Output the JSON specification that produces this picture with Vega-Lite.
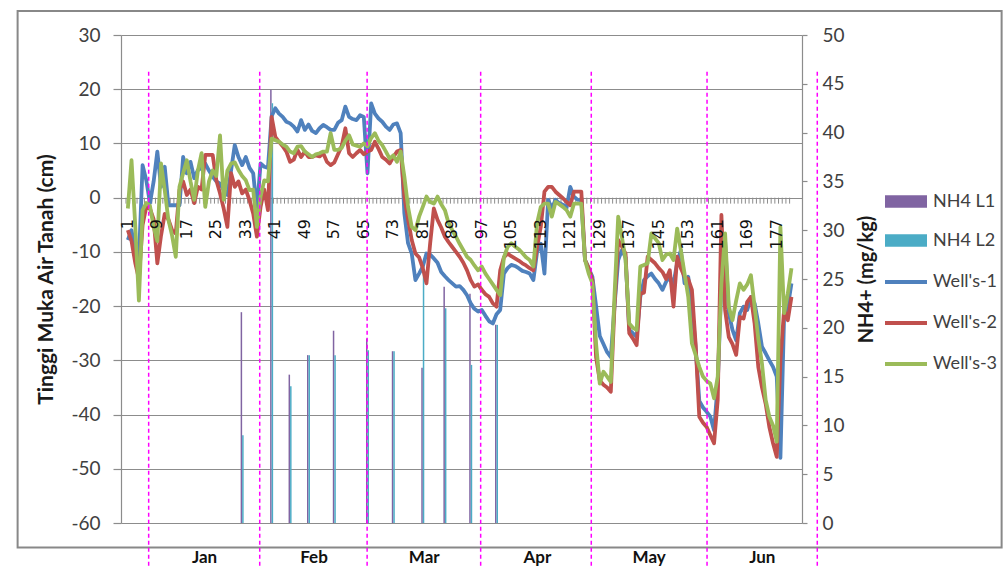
{
  "$schema": "https://vega.github.io/schema/vega-lite/v6.json",
  "width": 681,
  "height": 488,
  "autosize": {"type": "none"},
  "padding": {"left": 121, "top": 35, "right": 201, "bottom": 45},
  "background": "white",
  "config": {"view": {"stroke": null}, "font": "Lato", "text": {"font": "Lato"}},
  "datasets": {
    "w": [
      {"d":1,"b":-7.8,"r":-6,"g":-2},{"d":2,"b":-6,"r":-8,"g":6.9},{"d":3,"b":-10,"r":-12,"g":-5},{"d":4,"b":-11.5,"r":-15,"g":-19},
      {"d":5,"b":6,"r":-5,"g":-2.3},{"d":6,"b":3.2,"r":-1.7,"g":-1},{"d":7,"b":-1,"r":-2,"g":-1.5},{"d":8,"b":3,"r":-4,"g":-5.4},
      {"d":9,"b":8.5,"r":-12.1,"g":-8},{"d":10,"b":2,"r":-7,"g":6.3},{"d":11,"b":5.7,"r":-3,"g":1.4},{"d":12,"b":-1.4,"r":-4,"g":-4.1},
      {"d":13,"b":-1.4,"r":-6,"g":-7},{"d":14,"b":-1.4,"r":-6.6,"g":-10.9},{"d":15,"b":-1.4,"r":1.4,"g":2},{"d":16,"b":7.5,"r":3,"g":4.5},
      {"d":17,"b":4.5,"r":0.5,"g":6.9},{"d":18,"b":6.6,"r":1.5,"g":3},{"d":19,"b":3.6,"r":-1,"g":-0.4},{"d":20,"b":5.1,"r":2,"g":5},
      {"d":21,"b":5.5,"r":1.5,"g":8.2},{"d":22,"b":6.3,"r":7.9,"g":-1.7},{"d":23,"b":5,"r":7.9,"g":3},{"d":24,"b":3.9,"r":7.9,"g":5},
      {"d":25,"b":3,"r":3.2,"g":4},{"d":26,"b":2.6,"r":0.8,"g":11.5},{"d":27,"b":1.4,"r":-2,"g":-0.4},{"d":28,"b":0.5,"r":-5.4,"g":5},
      {"d":29,"b":5,"r":4.5,"g":6.3},{"d":30,"b":9.7,"r":2,"g":6.5},{"d":31,"b":7.5,"r":3,"g":5.1},{"d":32,"b":6,"r":0.8,"g":4},
      {"d":33,"b":7.5,"r":1.5,"g":3.2},{"d":34,"b":5.5,"r":-0.5,"g":1.4},{"d":35,"b":4.5,"r":-2.9,"g":1.5},{"d":36,"b":-2.3,"r":-7.2,"g":-5.4},
      {"d":37,"b":6.3,"r":-1.7,"g":0.2},{"d":38,"b":5.7,"r":1.5,"g":3.2},{"d":39,"b":5.5,"r":-2.3,"g":3},{"d":40,"b":15,"r":14.9,"g":10.9},
      {"d":41,"b":16.5,"r":11.2,"g":10.6},{"d":42,"b":15.5,"r":10.3,"g":10.3},{"d":43,"b":14.9,"r":9.5,"g":9.8},{"d":44,"b":14,"r":8.5,"g":9.4},
      {"d":45,"b":13.7,"r":6.6,"g":8.5},{"d":46,"b":13.1,"r":7,"g":8.2},{"d":47,"b":12.2,"r":8.8,"g":9.4},{"d":48,"b":14.3,"r":7.5,"g":9.5},
      {"d":49,"b":12.5,"r":8.5,"g":8.5},{"d":50,"b":13.5,"r":7.5,"g":8},{"d":51,"b":12.3,"r":7.5,"g":7.5},{"d":52,"b":11.9,"r":7.8,"g":8},
      {"d":53,"b":12.8,"r":7.6,"g":8.2},{"d":54,"b":13.4,"r":8.2,"g":8.5},{"d":55,"b":13,"r":6.6,"g":8.5},{"d":56,"b":12.5,"r":6,"g":11.9},
      {"d":57,"b":12.5,"r":6.5,"g":8.8},{"d":58,"b":13.8,"r":8,"g":8.8},{"d":59,"b":14.3,"r":9.5,"g":9.2},{"d":60,"b":16.8,"r":12.8,"g":10.5},
      {"d":61,"b":14.9,"r":8.2,"g":11.5},{"d":62,"b":14.5,"r":7.5,"g":9.8},{"d":63,"b":14.3,"r":8.2,"g":9.6},{"d":64,"b":15.2,"r":8.8,"g":9.4},
      {"d":65,"b":14.9,"r":8,"g":10},{"d":66,"b":4.5,"r":8.5,"g":9.5},{"d":67,"b":17.4,"r":8.8,"g":11},{"d":68,"b":15.5,"r":10.3,"g":11.9},
      {"d":69,"b":14.6,"r":9,"g":10.5},{"d":70,"b":14,"r":7.5,"g":9.7},{"d":71,"b":13.1,"r":7,"g":8.5},{"d":72,"b":12.5,"r":6.3,"g":7.2},
      {"d":73,"b":13.5,"r":7.5,"g":7.8},{"d":74,"b":13.7,"r":8.5,"g":6.6},{"d":75,"b":11.9,"r":8.8,"g":8.5},{"d":76,"b":-2.9,"r":0.2,"g":3.9},
      {"d":77,"b":-8.4,"r":-4,"g":-1.7},{"d":78,"b":-10.3,"r":-7.8,"g":-5.4},{"d":79,"b":-15.2,"r":-10.3,"g":-6},{"d":80,"b":-14,"r":-11,"g":-3.5},
      {"d":81,"b":-12.7,"r":-13,"g":-1.7},{"d":82,"b":-10.3,"r":-15.8,"g":0.2},{"d":83,"b":-10.5,"r":-8.4,"g":-0.8},{"d":84,"b":-11.2,"r":-2,"g":-1.1},
      {"d":85,"b":-12,"r":-4.1,"g":0.2},{"d":86,"b":-13.7,"r":-5.5,"g":-1.2},{"d":87,"b":-14.5,"r":-7.2,"g":-2.3},{"d":88,"b":-15.2,"r":-8.2,"g":-4.7},
      {"d":89,"b":-15.8,"r":-9.1,"g":-6},{"d":90,"b":-16.4,"r":-10,"g":-7.2},{"d":91,"b":-16.3,"r":-10.9,"g":-8.5},{"d":92,"b":-17,"r":-12,"g":-9.7},
      {"d":93,"b":-18,"r":-13.4,"g":-10.9},{"d":94,"b":-19.5,"r":-15.2,"g":-11.5},{"d":95,"b":-20.5,"r":-16.4,"g":-12.5},{"d":96,"b":-21,"r":-16,"g":-13.4},
      {"d":97,"b":-20.7,"r":-17,"g":-12.7},{"d":98,"b":-21.8,"r":-17.8,"g":-14},{"d":99,"b":-22.8,"r":-18.3,"g":-15},{"d":100,"b":-23.2,"r":-19.5,"g":-16},
      {"d":101,"b":-21.5,"r":-20.1,"g":-17},{"d":102,"b":-20.7,"r":-13.4,"g":-18},{"d":103,"b":-14,"r":-11,"g":-11},{"d":104,"b":-13,"r":-10.3,"g":-9.1},
      {"d":105,"b":-12.4,"r":-10.8,"g":-8.4},{"d":106,"b":-12.6,"r":-11.2,"g":-9},{"d":107,"b":-13,"r":-11.6,"g":-9.5},{"d":108,"b":-13.5,"r":-12.1,"g":-10.2},
      {"d":109,"b":-13.7,"r":-12.5,"g":-11},{"d":110,"b":-14,"r":-13,"g":-11.5},{"d":111,"b":-15.2,"r":-13.4,"g":-12.7},{"d":112,"b":-10,"r":-9.1,"g":-4.7},
      {"d":113,"b":-8.5,"r":-5.4,"g":-1.7},{"d":114,"b":-14,"r":1.1,"g":-1.1},{"d":115,"b":-0.4,"r":2,"g":-1.1},{"d":116,"b":-2,"r":2,"g":-3.5},
      {"d":117,"b":-0.4,"r":1.1,"g":-0.8},{"d":118,"b":-1,"r":0.5,"g":-1.2},{"d":119,"b":-1.3,"r":-0.1,"g":-1.7},{"d":120,"b":-1.9,"r":-0.8,"g":-2.3},
      {"d":121,"b":2,"r":-1.4,"g":-3.5},{"d":122,"b":0.2,"r":1.1,"g":-1.1},{"d":123,"b":-0.4,"r":1.1,"g":-1.1},{"d":124,"b":-0.4,"r":1.1,"g":-1.1},
      {"d":125,"b":-11.5,"r":-11.5,"g":-11.5},{"d":126,"b":-13,"r":-13,"g":-14},{"d":127,"b":-14.6,"r":-15.2,"g":-15.8},{"d":128,"b":-20,"r":-29.4,"g":-26.9},
      {"d":129,"b":-25.5,"r":-33.7,"g":-34.3},{"d":130,"b":-27,"r":-34.5,"g":-32.1},{"d":131,"b":-28.5,"r":-35,"g":-33},{"d":132,"b":-29.4,"r":-35.8,"g":-34},
      {"d":133,"b":-20,"r":-20,"g":-18},{"d":134,"b":-11.5,"r":-7.8,"g":-3.5},{"d":135,"b":-9.7,"r":-9,"g":-7.2},{"d":136,"b":-11,"r":-10.3,"g":-11.5},
      {"d":137,"b":-24.4,"r":-25,"g":-23.2},{"d":138,"b":-25,"r":-26,"g":-24},{"d":139,"b":-25.7,"r":-27.2,"g":-24.4},{"d":140,"b":-18.3,"r":-17.7,"g":-12.7},
      {"d":141,"b":-15.2,"r":-17.5,"g":-12.4},{"d":142,"b":-14.5,"r":-10.9,"g":-12.1},{"d":143,"b":-14,"r":-11.5,"g":-6.6},{"d":144,"b":-15,"r":-12.1,"g":-7.5},
      {"d":145,"b":-15.8,"r":-13,"g":-8.4},{"d":146,"b":-17,"r":-13.7,"g":-11.5},{"d":147,"b":-15.5,"r":-15,"g":-10.5},{"d":148,"b":-14.6,"r":-13.4,"g":-10.3},
      {"d":149,"b":-15.8,"r":-20.1,"g":-11.5},{"d":150,"b":-12,"r":-10.9,"g":-5.7},{"d":151,"b":-9.7,"r":-13,"g":-9.7},{"d":152,"b":-15.8,"r":-14.6,"g":-14},
      {"d":153,"b":-14.6,"r":-15,"g":-18.3},{"d":154,"b":-20,"r":-17,"g":-26.9},{"d":155,"b":-27.5,"r":-27,"g":-29},{"d":156,"b":-37.5,"r":-40.4,"g":-31.2},
      {"d":157,"b":-38.7,"r":-41.5,"g":-33},{"d":158,"b":-39.5,"r":-42.3,"g":-33.8},{"d":159,"b":-40.4,"r":-43.8,"g":-34.3},{"d":160,"b":-42.9,"r":-45.3,"g":-37},
      {"d":161,"b":-34.3,"r":-37.3,"g":-33},{"d":162,"b":-15.8,"r":-3.2,"g":-15.8},{"d":163,"b":-8,"r":-20.7,"g":-6.6},{"d":164,"b":-21.3,"r":-25.7,"g":-20.1},
      {"d":165,"b":-24.4,"r":-27,"g":-22.6},{"d":166,"b":-26.3,"r":-29,"g":-19},{"d":167,"b":-21.3,"r":-22,"g":-15.8},{"d":168,"b":-20.1,"r":-22.3,"g":-17},
      {"d":169,"b":-20.7,"r":-19.2,"g":-16},{"d":170,"b":-18.3,"r":-18.3,"g":-14.3},{"d":171,"b":-19.5,"r":-23.2,"g":-20.1},{"d":172,"b":-23.2,"r":-31.2,"g":-26},
      {"d":173,"b":-27.5,"r":-35,"g":-30.6},{"d":174,"b":-28.7,"r":-38,"g":-37.3},{"d":175,"b":-30,"r":-42.3,"g":-40.4},{"d":176,"b":-31.2,"r":-45.3,"g":-42},
      {"d":177,"b":-33,"r":-47.8,"g":-45},{"d":178,"b":-48,"r":-30,"g":-5.4},{"d":179,"b":-22,"r":-20.7,"g":-21.3},{"d":180,"b":-20.1,"r":-22.6,"g":-17.7},
      {"d":181,"b":-15.8,"r":-18.3,"g":-13}
    ],
    "nh": [
      {"d":32,"s":"NH4 L1","v":21.6},{"d":32,"s":"NH4 L2","v":9.0},
      {"d":40,"s":"NH4 L1","v":44.4},{"d":40,"s":"NH4 L2","v":43},
      {"d":45,"s":"NH4 L1","v":15.2},{"d":45,"s":"NH4 L2","v":14.0},
      {"d":50,"s":"NH4 L1","v":17.2},{"d":50,"s":"NH4 L2","v":17.2},
      {"d":57,"s":"NH4 L1","v":19.7},{"d":57,"s":"NH4 L2","v":17.2},
      {"d":66,"s":"NH4 L1","v":18.9},{"d":66,"s":"NH4 L2","v":17.7},
      {"d":73,"s":"NH4 L1","v":17.6},{"d":73,"s":"NH4 L2","v":17.6},
      {"d":81,"s":"NH4 L1","v":15.9},{"d":81,"s":"NH4 L2","v":25.5},
      {"d":87,"s":"NH4 L1","v":24.2},{"d":87,"s":"NH4 L2","v":22.0},
      {"d":94,"s":"NH4 L1","v":23.5},{"d":94,"s":"NH4 L2","v":16.2},
      {"d":101,"s":"NH4 L1","v":20.3},{"d":101,"s":"NH4 L2","v":20.3}
    ],
    "mon": [
      {"m":"Jan","d":21.8},{"m":"Feb","d":51.5},{"m":"Mar","d":81.4},
      {"m":"Apr","d":112.1},{"m":"May","d":142.4},{"m":"Jun","d":173.1}
    ],
    "dash": [{"d":6.65},{"d":36.77},{"d":65.9},{"d":96.7},{"d":126.7},{"d":158.1},{"d":188}]
  },
  "layer": [
    {
      "data": {"name": "nh"},
      "transform": [{"filter": "datum.s == 'NH4 L1'"}],
      "mark": {"type": "bar", "width": 1.5, "xOffset": -0.75},
      "encoding": {
        "x": {"field": "d", "type": "quantitative", "scale": {"domain": [0.5, 182.5], "nice": false, "zero": false}, "axis": null},
        "y": {"field": "v", "type": "quantitative", "scale": {"domain": [0, 50], "nice": false},
          "axis": {"orient": "right", "values": [0,5,10,15,20,25,30,35,40,45,50], "grid": false,
            "domainColor": "#8c8c8c", "domainWidth": 1.2, "tickColor": "#8c8c8c", "tickSize": 5, "tickWidth": 1.2,
            "labelPadding": 15, "labelFontSize": 19, "labelColor": "#404040", "labelFont": "Lato",
            "title": "NH4+ (mg/kg)", "titleAngle": 270, "titleBaseline": "top", "titlePadding": 12,
            "titleFontSize": 20, "titleFontWeight": "bold", "titleColor": "#1a1a1a", "titleFont": "Lato"}},
        "fill": {"field": "s", "type": "nominal",
          "scale": {"domain": ["NH4 L1", "NH4 L2"], "range": ["#8064A2", "#4BACC6"]},
          "legend": {"orient": "none", "legendX": 764, "legendY": 145.5, "title": null, "padding": 0,
            "symbolType": "M-1,-0.3H1V0.3H-1Z", "symbolSize": 1764, "symbolStrokeWidth": 0,
            "labelFontSize": 18, "labelFont": "Lato", "labelColor": "#404040", "labelOffset": 6, "rowPadding": 9}}
      }
    },
    {
      "data": {"name": "nh"},
      "transform": [{"filter": "datum.s == 'NH4 L2'"}],
      "mark": {"type": "bar", "width": 1.5, "xOffset": 0.75},
      "encoding": {
        "x": {"field": "d", "type": "quantitative", "scale": {"domain": [0.5, 182.5], "nice": false, "zero": false}, "axis": null},
        "y": {"field": "v", "type": "quantitative", "scale": {"domain": [0, 50], "nice": false}, "axis": null},
        "fill": {"field": "s", "type": "nominal"}
      }
    },
    {
      "data": {"values": [{}]},
      "mark": {"type": "rect", "fillOpacity": 0, "stroke": "#888888", "strokeWidth": 2},
      "encoding": {
        "x": {"datum": -28.9, "type": "quantitative", "scale": {"domain": [0.5, 182.5], "nice": false, "zero": false}, "axis": null},
        "x2": {"datum": 238},
        "y": {"datum": 34.43, "type": "quantitative", "scale": {"domain": [-60, 30], "nice": false}, "axis": null},
        "y2": {"datum": -64.52}
      }
    },
    {
      "data": {"name": "w"},
      "mark": {"type": "rule", "stroke": "#8c8c8c", "strokeWidth": 1, "xOffset": -1.87},
      "encoding": {
        "x": {"field": "d", "type": "quantitative", "scale": {"domain": [0.5, 182.5], "nice": false, "zero": false}, "axis": null},
        "y": {"datum": 0, "type": "quantitative", "scale": {"domain": [-60, 30], "nice": false}, "axis": null},
        "y2": {"datum": -1.1}
      }
    },
    {
      "data": {"name": "w"},
      "mark": {"type": "line", "strokeWidth": 3.8, "strokeJoin": "round"},
      "encoding": {
        "x": {"field": "d", "type": "quantitative", "scale": {"domain": [0.5, 182.5], "nice": false, "zero": false}, "axis": null},
        "y": {"field": "b", "type": "quantitative", "scale": {"domain": [-60, 30], "nice": false},
          "axis": {"orient": "left", "values": [-60,-50,-40,-30,-20,-10,0,10,20,30], "grid": true,
            "labelExpr": "'' + datum.value",
            "gridColor": "#8c8c8c", "gridWidth": 1.2, "domainColor": "#8c8c8c", "domainWidth": 1.2,
            "tickColor": "#8c8c8c", "tickSize": 8, "tickWidth": 1.2, "labelPadding": 13,
            "labelFontSize": 19, "labelColor": "#404040", "labelFont": "Lato",
            "title": "Tinggi Muka Air Tanah (cm)", "titleFontSize": 21, "titleFontWeight": "bold",
            "titleColor": "#1a1a1a", "titleFont": "Lato", "titlePadding": 14}},
        "stroke": {"datum": "Well's-1", "type": "nominal",
          "scale": {"domain": ["Well's-1", "Well's-2", "Well's-3"], "range": ["#4F81BD", "#C0504D", "#9BBB59"]},
          "legend": {"orient": "none", "legendX": 762, "legendY": 224, "title": null, "padding": 0,
            "symbolType": "M-1,0H1", "symbolSize": 1764, "symbolStrokeWidth": 4,
            "labelFontSize": 18, "labelFont": "Lato", "labelColor": "#404040", "labelOffset": 4, "rowPadding": 9}}
      }
    },
    {
      "data": {"name": "w"},
      "mark": {"type": "line", "strokeWidth": 3.8, "strokeJoin": "round"},
      "encoding": {
        "x": {"field": "d", "type": "quantitative", "scale": {"domain": [0.5, 182.5], "nice": false, "zero": false}, "axis": null},
        "y": {"field": "r", "type": "quantitative", "scale": {"domain": [-60, 30], "nice": false}, "axis": null},
        "stroke": {"datum": "Well's-2", "type": "nominal"}
      }
    },
    {
      "data": {"name": "w"},
      "mark": {"type": "line", "strokeWidth": 3.8, "strokeJoin": "round"},
      "encoding": {
        "x": {"field": "d", "type": "quantitative", "scale": {"domain": [0.5, 182.5], "nice": false, "zero": false}, "axis": null},
        "y": {"field": "g", "type": "quantitative", "scale": {"domain": [-60, 30], "nice": false}, "axis": null},
        "stroke": {"datum": "Well's-3", "type": "nominal"}
      }
    },
    {
      "data": {"name": "w"},
      "transform": [{"filter": "(datum.d - 1) % 8 == 0"}],
      "mark": {"type": "text", "angle": 270, "align": "right", "baseline": "middle", "font": "DejaVu Sans", "fontSize": 16, "color": "#111111"},
      "encoding": {
        "x": {"field": "d", "type": "quantitative", "scale": {"domain": [0.5, 182.5], "nice": false, "zero": false}, "axis": null},
        "y": {"datum": -3.93, "type": "quantitative", "scale": {"domain": [-60, 30], "nice": false}, "axis": null},
        "text": {"field": "d", "type": "quantitative"}
      }
    },
    {
      "data": {"name": "mon"},
      "mark": {"type": "text", "align": "center", "baseline": "middle", "font": "Lato", "fontSize": 17, "fontWeight": "bold", "color": "#111111"},
      "encoding": {
        "x": {"field": "d", "type": "quantitative", "scale": {"domain": [0.5, 182.5], "nice": false, "zero": false}, "axis": null},
        "y": {"datum": -66.45, "type": "quantitative", "scale": {"domain": [-60, 30], "nice": false}, "axis": null},
        "text": {"field": "m", "type": "nominal"}
      }
    },
    {
      "data": {"name": "dash"},
      "mark": {"type": "rule", "stroke": "#FF00FF", "strokeWidth": 1.5, "strokeDash": [4, 3]},
      "encoding": {
        "x": {"field": "d", "type": "quantitative", "scale": {"domain": [0.5, 182.5], "nice": false, "zero": false}, "axis": null},
        "y": {"datum": 23.23, "type": "quantitative", "scale": {"domain": [-60, 30], "nice": false}, "axis": null},
        "y2": {"datum": -68.3}
      }
    }
  ],
  "resolve": {"scale": {"y": "independent"}}
}
